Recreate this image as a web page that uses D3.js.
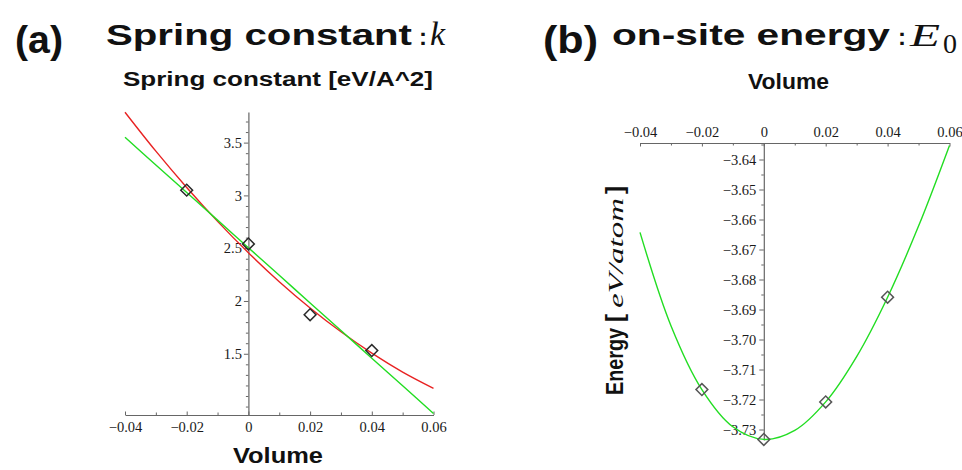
<!DOCTYPE html>
<html>
<head>
<meta charset="utf-8">
<script src="https://cdn.jsdelivr.net/npm/d3@7"></script>
<style>
  body { margin: 0; background: #fff; }
  svg { display: block; }
</style>
</head>
<body>
<svg id="chart" width="962" height="470"></svg>
<script>
// measured points (volume strain)
var vol = [-0.02, 0, 0.02, 0.04];
var springK = [3.05, 2.54, 1.87, 1.53];
var energyE0 = [-3.7167, -3.7333, -3.7208, -3.6859];

// fitted curves, every 0.01
var curveVol = [-0.04, -0.03, -0.02, -0.01, 0, 0.01, 0.02, 0.03, 0.04, 0.05, 0.06];
var springQuad = [3.788, 3.419, 3.075, 2.754, 2.457, 2.183, 1.934, 1.708, 1.506, 1.327, 1.173];
var springLin = [3.55, 3.288, 3.027, 2.766, 2.504, 2.243, 1.981, 1.72, 1.458, 1.197, 0.935];
var energyFit = [-3.6643, -3.6954, -3.7167, -3.7291, -3.7333, -3.7303, -3.7208, -3.7057, -3.6859, -3.6622, -3.6353];

// tick values
var volTicks = [-0.04, -0.02, 0, 0.02, 0.04, 0.06];
var volMinor = [-0.03, -0.01, 0.01, 0.03, 0.05];
var kTicks = [1.5, 2, 2.5, 3, 3.5];
var kMinor = [1.0, 1.1, 1.2, 1.3, 1.4, 1.6, 1.7, 1.8, 1.9, 2.1, 2.2, 2.3, 2.4, 2.6, 2.7, 2.8, 2.9, 3.1, 3.2, 3.3, 3.4, 3.6, 3.7];
var eTicks = [-3.64, -3.65, -3.66, -3.67, -3.68, -3.69, -3.70, -3.71, -3.72, -3.73];
var eMinor = [-3.635, -3.645, -3.655, -3.665, -3.675, -3.685, -3.695, -3.705, -3.715, -3.725];

var svg = d3.select("#chart");
var sans = "'Liberation Sans', Arial, sans-serif";
var serif = "'Liberation Serif', 'Times New Roman', serif";
var axisCol = "#666";
var red = "#e82222", green = "#22dd22";

function zip(xs, ys) { return xs.map(function(x, i){ return [x, ys[i]]; }); }

function styleAxis(g) {
  g.attr("font-family", serif).attr("font-size", 14.5);
  g.selectAll("path.domain").attr("stroke", axisCol).attr("stroke-width", 1.2);
  g.selectAll(".tick line").attr("stroke", axisCol).attr("stroke-width", 1);
  g.selectAll(".tick text").attr("fill", "#1a1a1a");
}

function diamonds(g, data, x, y, col) {
  g.selectAll("path.pt").data(data).enter().append("path")
    .attr("class", "pt")
    .attr("d", d3.symbol().type(d3.symbolSquare).size(70))
    .attr("transform", function(d){ return "translate(" + x(d[0]) + "," + y(d[1]) + ") rotate(45)"; })
    .attr("fill", "none")
    .attr("stroke", col)
    .attr("stroke-width", 1.5);
}

// ---------- (a) spring constant ----------
var xK = d3.scaleLinear().domain([-0.04, 0.06]).range([125, 433.5]);
var yK = d3.scaleLinear().domain([0.92, 3.79]).range([415, 112]);
var gA = svg.append("g");

var axA_x = gA.append("g").attr("transform", "translate(0," + yK(0.92) + ")")
  .call(d3.axisBottom(xK).tickValues(volTicks).tickFormat(d3.format(".2~f"))
    .tickSizeInner(-3.5).tickSizeOuter(0).tickPadding(7));
styleAxis(axA_x);
var axA_xm = gA.append("g").attr("transform", "translate(0," + yK(0.92) + ")")
  .call(d3.axisBottom(xK).tickValues(volMinor).tickFormat("").tickSize(-2.5));
axA_xm.select("path.domain").remove();
styleAxis(axA_xm);

var axA_y = gA.append("g").attr("transform", "translate(" + xK(0) + ",0)")
  .call(d3.axisLeft(yK).tickValues(kTicks).tickFormat(function(d){ return String(d); })
    .tickSizeInner(4.5).tickSizeOuter(0).tickPadding(2));
styleAxis(axA_y);
var axA_ym = gA.append("g").attr("transform", "translate(" + xK(0) + ",0)")
  .call(d3.axisLeft(yK).tickValues(kMinor).tickFormat("").tickSize(2.5));
axA_ym.select("path.domain").remove();
styleAxis(axA_ym);

var lineK = d3.line().x(function(d){ return xK(d[0]); }).y(function(d){ return yK(d[1]); })
  .curve(d3.curveCatmullRom);
gA.append("path").datum(zip(curveVol, springQuad)).attr("d", lineK)
  .attr("fill", "none").attr("stroke", red).attr("stroke-width", 1.4);
gA.append("path").datum(zip(curveVol, springLin)).attr("d", lineK)
  .attr("fill", "none").attr("stroke", green).attr("stroke-width", 1.4);
diamonds(gA, zip(vol, springK), xK, yK, "#2a2a2a");

// ---------- (b) on-site energy ----------
var xE = d3.scaleLinear().domain([-0.04, 0.06]).range([640, 949.5]);
var yE = d3.scaleLinear().domain([-3.7335, -3.6345]).range([440, 143]);
var gB = svg.append("g");

var axB_x = gB.append("g").attr("transform", "translate(0," + yE(-3.6345) + ")")
  .call(d3.axisTop(xE).tickValues(volTicks).tickFormat(d3.format(".2~f"))
    .tickSizeInner(-3.5).tickSizeOuter(0).tickPadding(6));
styleAxis(axB_x);
var axB_xm = gB.append("g").attr("transform", "translate(0," + yE(-3.6345) + ")")
  .call(d3.axisTop(xE).tickValues(volMinor).tickFormat("").tickSize(-2.5));
axB_xm.select("path.domain").remove();
styleAxis(axB_xm);

var axB_y = gB.append("g").attr("transform", "translate(" + xE(0) + ",0)")
  .call(d3.axisLeft(yE).tickValues(eTicks).tickFormat(d3.format(".2f"))
    .tickSizeInner(4.5).tickSizeOuter(0).tickPadding(3));
styleAxis(axB_y);
var axB_ym = gB.append("g").attr("transform", "translate(" + xE(0) + ",0)")
  .call(d3.axisLeft(yE).tickValues(eMinor).tickFormat("").tickSize(2.5));
axB_ym.select("path.domain").remove();
styleAxis(axB_ym);

var lineE = d3.line().x(function(d){ return xE(d[0]); }).y(function(d){ return yE(d[1]); })
  .curve(d3.curveCatmullRom);
gB.append("path").datum(zip(curveVol, energyFit)).attr("d", lineE)
  .attr("fill", "none").attr("stroke", green).attr("stroke-width", 1.4);
diamonds(gB, zip(vol, energyE0), xE, yE, "#555");

// ---------- titles and labels ----------
function label(txt, x, y, size, opts) {
  opts = opts || {};
  var t = svg.append("text").attr("x", x).attr("y", y)
    .attr("font-family", opts.family || sans)
    .attr("font-size", size)
    .attr("font-weight", opts.weight || "bold")
    .attr("font-style", opts.style || "normal")
    .attr("fill", "#111")
    .text(txt);
  if (opts.len) t.attr("textLength", opts.len).attr("lengthAdjust", "spacingAndGlyphs");
  return t;
}

label("(a)", 15, 53, 38, {len: 48});
label("Spring constant", 106, 45, 30, {len: 306});
label(":", 419, 45, 24);
label("k", 430, 45, 34, {family: serif, weight: "normal", style: "italic"});
label("Spring constant [eV/A^2]", 123, 86, 20, {len: 310});
label("Volume", 233, 463, 22, {len: 90});

label("(b)", 543, 53, 38, {len: 55});
label("on-site energy", 612, 45, 30, {len: 278});
label(":", 898, 45, 24);
label("E", 910, 46, 32, {family: serif, weight: "normal", style: "italic", len: 30});
label("0", 943, 53, 28, {family: serif, weight: "normal"});
label("Volume", 748, 89, 22, {len: 81});

// rotated y label of (b)
var yl = svg.append("g").attr("transform", "translate(623,395) rotate(-90)");
function rlabel(txt, x, size, opts) {
  var t = yl.append("text").attr("x", x).attr("y", 0)
    .attr("font-family", opts.family || sans)
    .attr("font-size", size)
    .attr("font-weight", opts.weight || "bold")
    .attr("font-style", opts.style || "normal")
    .attr("fill", "#111")
    .text(txt);
  if (opts.len) t.attr("textLength", opts.len).attr("lengthAdjust", "spacingAndGlyphs");
}
rlabel("Energy", 0, 24, {len: 67});
rlabel("[", 73, 24, {});
rlabel("eV/atom", 87, 22, {family: serif, weight: "normal", style: "italic", len: 110});
rlabel("]", 201, 24, {});
</script>
</body>
</html>
